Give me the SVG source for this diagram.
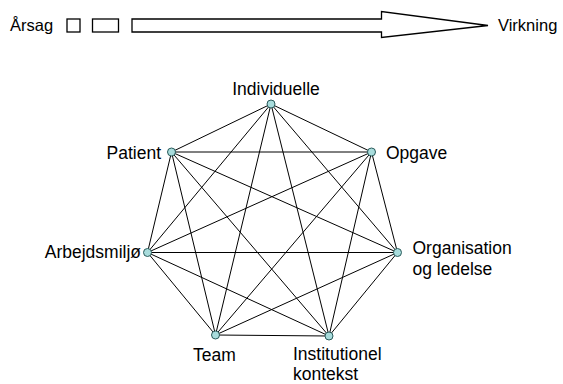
<svg xmlns="http://www.w3.org/2000/svg" width="563" height="384" viewBox="0 0 563 384">
<style>
text{font-family:"Liberation Sans",Arial,sans-serif;font-size:17.5px;fill:#000}
.top{font-size:16.5px}
.e line{stroke:#000;stroke-width:1}
.n{fill:#a8dcdc;stroke:#2a5a5a;stroke-width:1}
.s{fill:#fff;stroke:#000;stroke-width:1.3}
</style>
<rect width="563" height="384" fill="#fff"/>
<g id="header">
<text class="top" x="10" y="31">Årsag</text>
<rect class="s" x="67" y="19" width="13" height="13"/>
<rect class="s" x="92.5" y="19" width="26" height="13"/>
<polygon class="s" points="132,19 381.5,19 381.5,11.5 488,25.5 381.5,37.5 381.5,32 132,32"/>
<text class="top" x="498" y="31">Virkning</text>
</g>
<g id="connectors" class="e">
<line x1="271" y1="104" x2="171.5" y2="152"/>
<line x1="271" y1="104" x2="371.5" y2="152"/>
<line x1="271" y1="104" x2="147.5" y2="252.5"/>
<line x1="271" y1="104" x2="397.5" y2="252.5"/>
<line x1="271" y1="104" x2="215.5" y2="335"/>
<line x1="271" y1="104" x2="329" y2="336"/>
<line x1="171.5" y1="152" x2="371.5" y2="152"/>
<line x1="171.5" y1="152" x2="147.5" y2="252.5"/>
<line x1="171.5" y1="152" x2="397.5" y2="252.5"/>
<line x1="171.5" y1="152" x2="215.5" y2="335"/>
<line x1="171.5" y1="152" x2="329" y2="336"/>
<line x1="371.5" y1="152" x2="147.5" y2="252.5"/>
<line x1="371.5" y1="152" x2="397.5" y2="252.5"/>
<line x1="371.5" y1="152" x2="215.5" y2="335"/>
<line x1="371.5" y1="152" x2="329" y2="336"/>
<line x1="147.5" y1="252.5" x2="397.5" y2="252.5"/>
<line x1="147.5" y1="252.5" x2="215.5" y2="335"/>
<line x1="147.5" y1="252.5" x2="329" y2="336"/>
<line x1="397.5" y1="252.5" x2="215.5" y2="335"/>
<line x1="397.5" y1="252.5" x2="329" y2="336"/>
<line x1="215.5" y1="335" x2="329" y2="336"/>
</g>
<g id="individuelle"><circle class="n" cx="271" cy="104" r="4"/><text x="276" y="95" text-anchor="middle">Individuelle</text></g>
<g id="patient"><circle class="n" cx="171.5" cy="152" r="4"/><text x="161" y="159" text-anchor="end">Patient</text></g>
<g id="opgave"><circle class="n" cx="371.5" cy="152" r="4"/><text x="386" y="159">Opgave</text></g>
<g id="arbejdsmiljo"><circle class="n" cx="147.5" cy="252.5" r="4"/><text x="141" y="258" text-anchor="end">Arbejdsmiljø</text></g>
<g id="organisation"><circle class="n" cx="397.5" cy="252.5" r="4"/><text x="412.5" y="253.5">Organisation</text><text x="412.5" y="275">og ledelse</text></g>
<g id="team"><circle class="n" cx="215.5" cy="335" r="4"/><text x="214.5" y="361" text-anchor="middle">Team</text></g>
<g id="institutionel"><circle class="n" cx="329" cy="336" r="4"/><text x="293" y="360">Institutionel</text><text x="293" y="380">kontekst</text></g>
</svg>
